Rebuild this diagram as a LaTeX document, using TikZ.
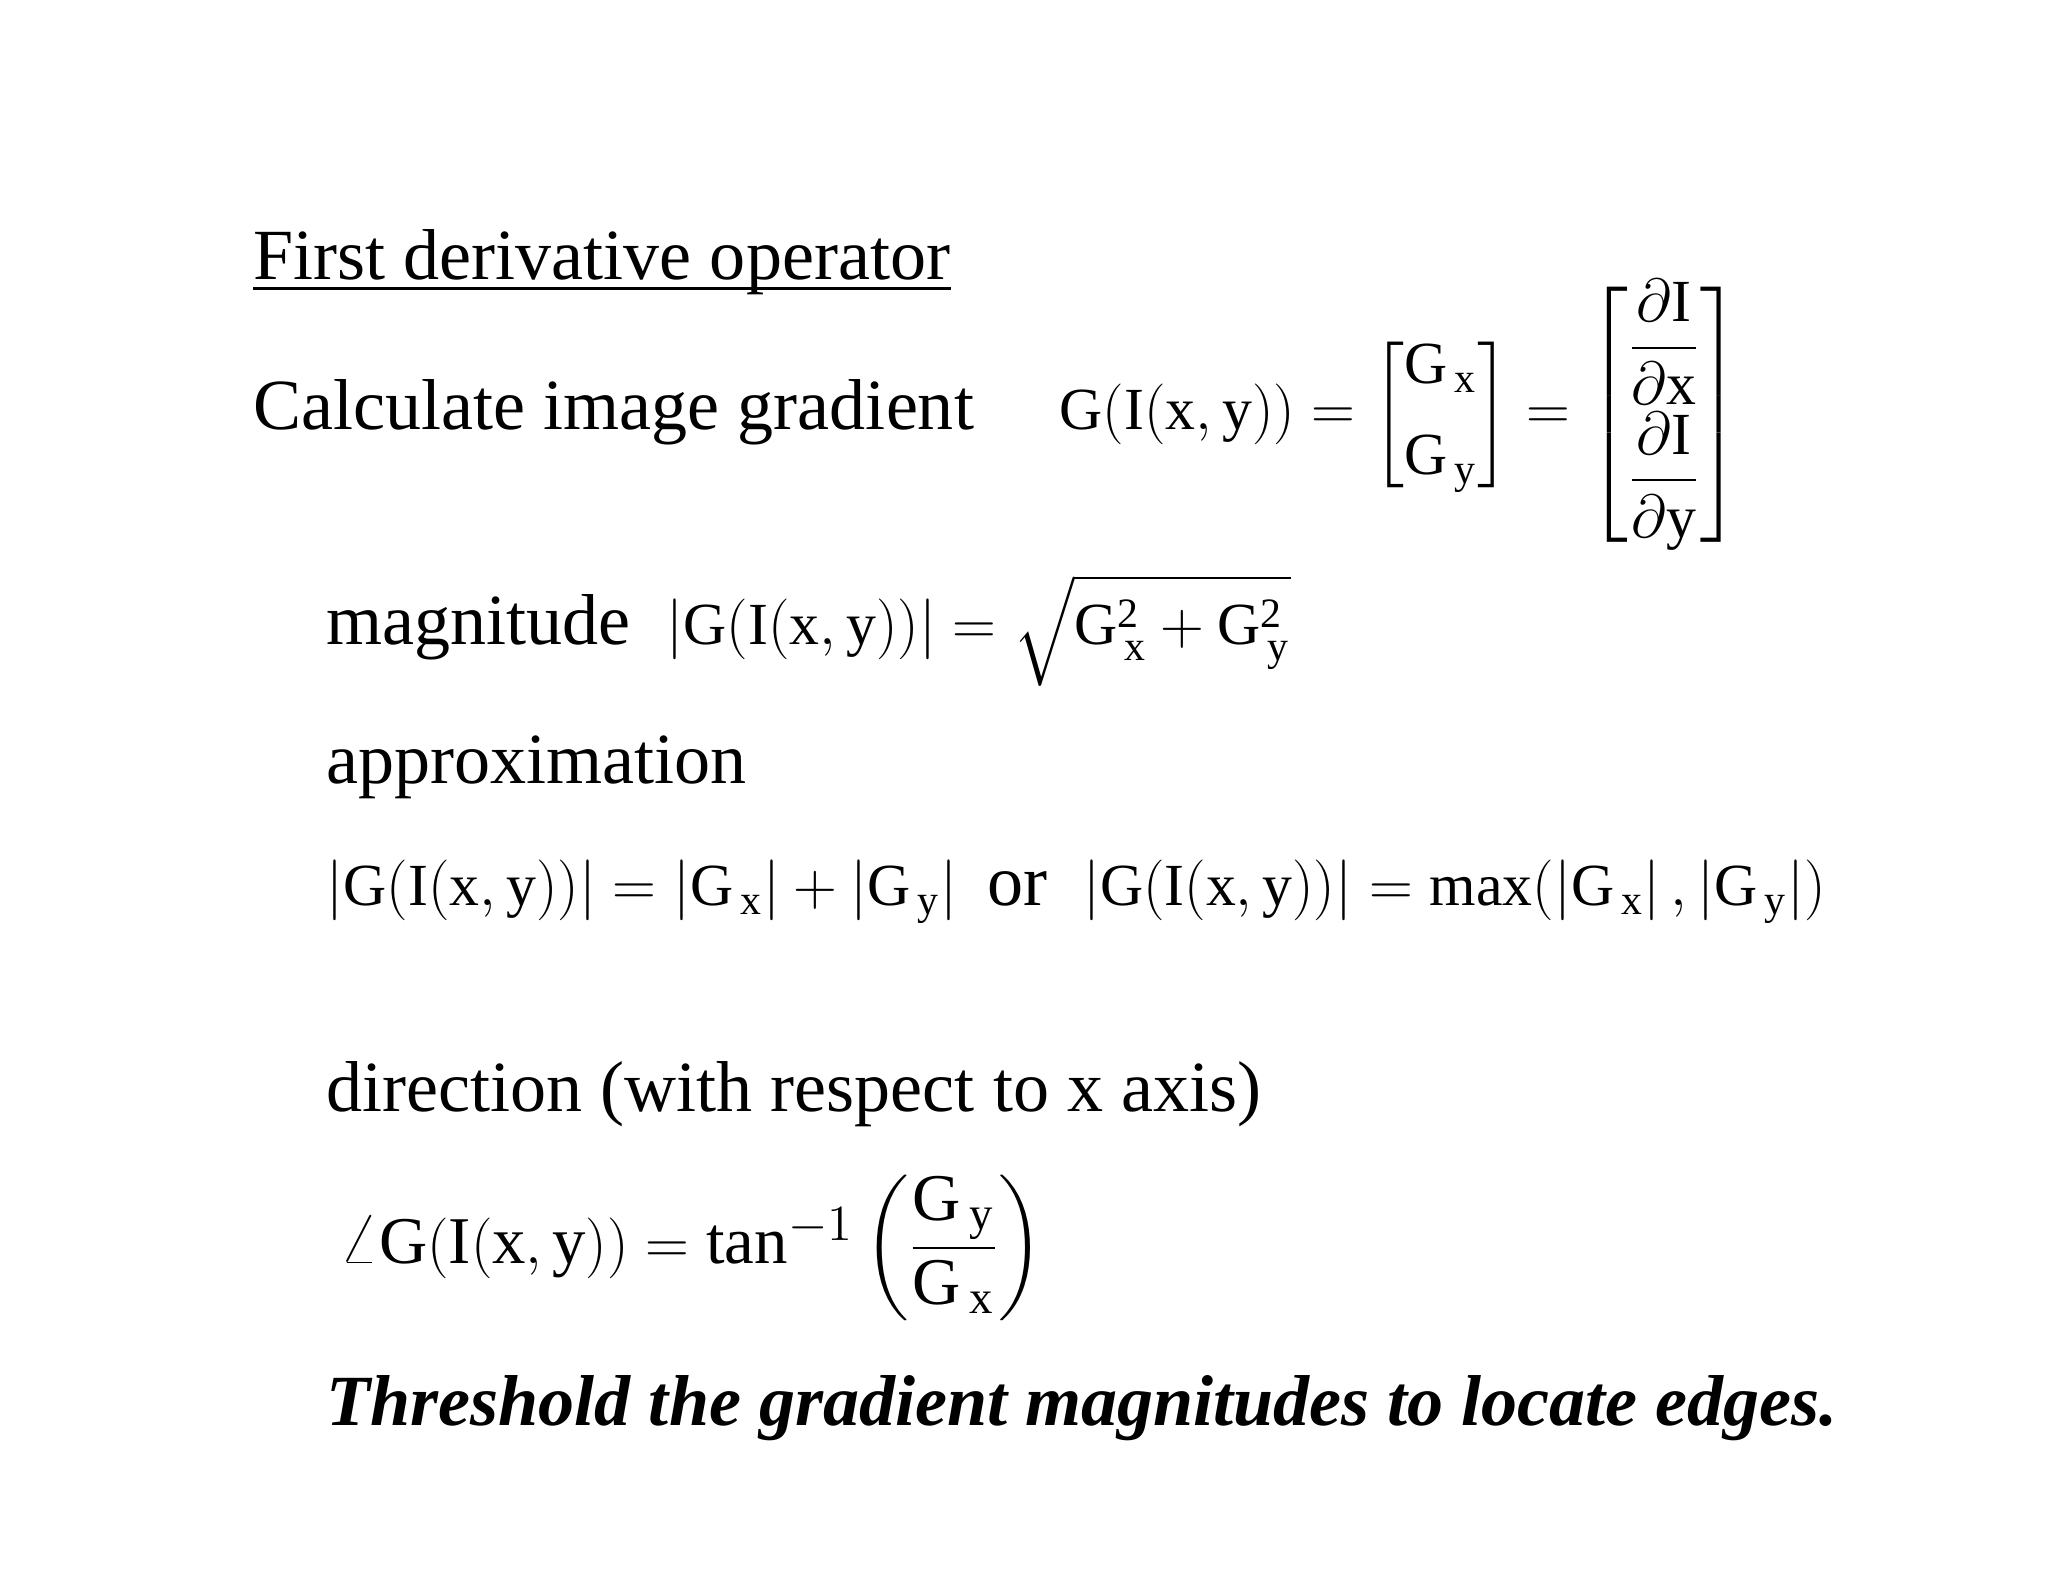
\documentclass[tikz,border=0pt]{standalone}
\usepackage{amsmath}
\usepackage{fontspec}
\setmainfont{Liberation Serif}
\begin{document}
\begin{tikzpicture}[txt/.style={anchor=base west,inner sep=0pt,font=\fontsize{20.5}{24}\selectfont},
eq/.style={anchor=base west,inner sep=0pt,font=\fontsize{17}{20}\selectfont}]
\useasboundingbox[fill=white] (0,0) rectangle (20.48,-15.82);
\node[txt] (t1) at (2.53,-2.80) {First derivative operator};
\draw[line width=0.8pt] ([yshift=-2.5pt]t1.base west) -- ([yshift=-2.5pt]t1.base east);
\node[txt] (t2) at (2.53,-4.30) {Calculate image gradient};
\node[eq] (e1) at (10.59,-4.30) {$\mathrm{G(I(x,y))} = \begin{bmatrix}\mathrm{G_{\,x}}\\[6pt] \mathrm{G_{\,y}}\end{bmatrix} = \begin{bmatrix}\dfrac{\partial \mathrm{I}}{\partial \mathrm{x}}\\[8pt] \dfrac{\partial \mathrm{I}}{\partial \mathrm{y}}\end{bmatrix}$};
\node[txt] (t3) at (3.26,-6.45) {magnitude \ \fontsize{17}{20}\selectfont$\left|\mathrm{G(I(x,y))}\right| = \sqrt{\mathrm{G_{\,x}^2+G_{\,y}^2}}$};
\node[txt] (t4) at (3.26,-7.83) {approximation};
\node[txt] (t5) at (3.26,-9.05) {\fontsize{17}{20}\selectfont$\left|\mathrm{G(I(x,y))}\right| = \left|\mathrm{G_{\,x}}\right| + \left|\mathrm{G_{\,y}}\right|$ \ \fontsize{20.5}{24}\selectfont or \ \fontsize{17}{20}\selectfont$\left|\mathrm{G(I(x,y))}\right| = \mathrm{max}(\left|\mathrm{G_{\,x}}\right|,\left|\mathrm{G_{\,y}}\right|)$};
\node[txt] (t6) at (3.26,-11.12) {direction (with respect to x axis)};
\node[eq] (t7) at (3.39,-12.63) {\fontsize{19}{22}\selectfont$\angle\mathrm{G(I(x,y))} = \mathrm{tan}^{-1}\left(\dfrac{\mathrm{G_{\,y}}}{\mathrm{G_{\,x}}}\right)$};
\node[txt] (t8) at (3.26,-14.25) {\textbf{\textit{Threshold the gradient magnitudes to locate edges.}}};
\end{tikzpicture}
\end{document}
